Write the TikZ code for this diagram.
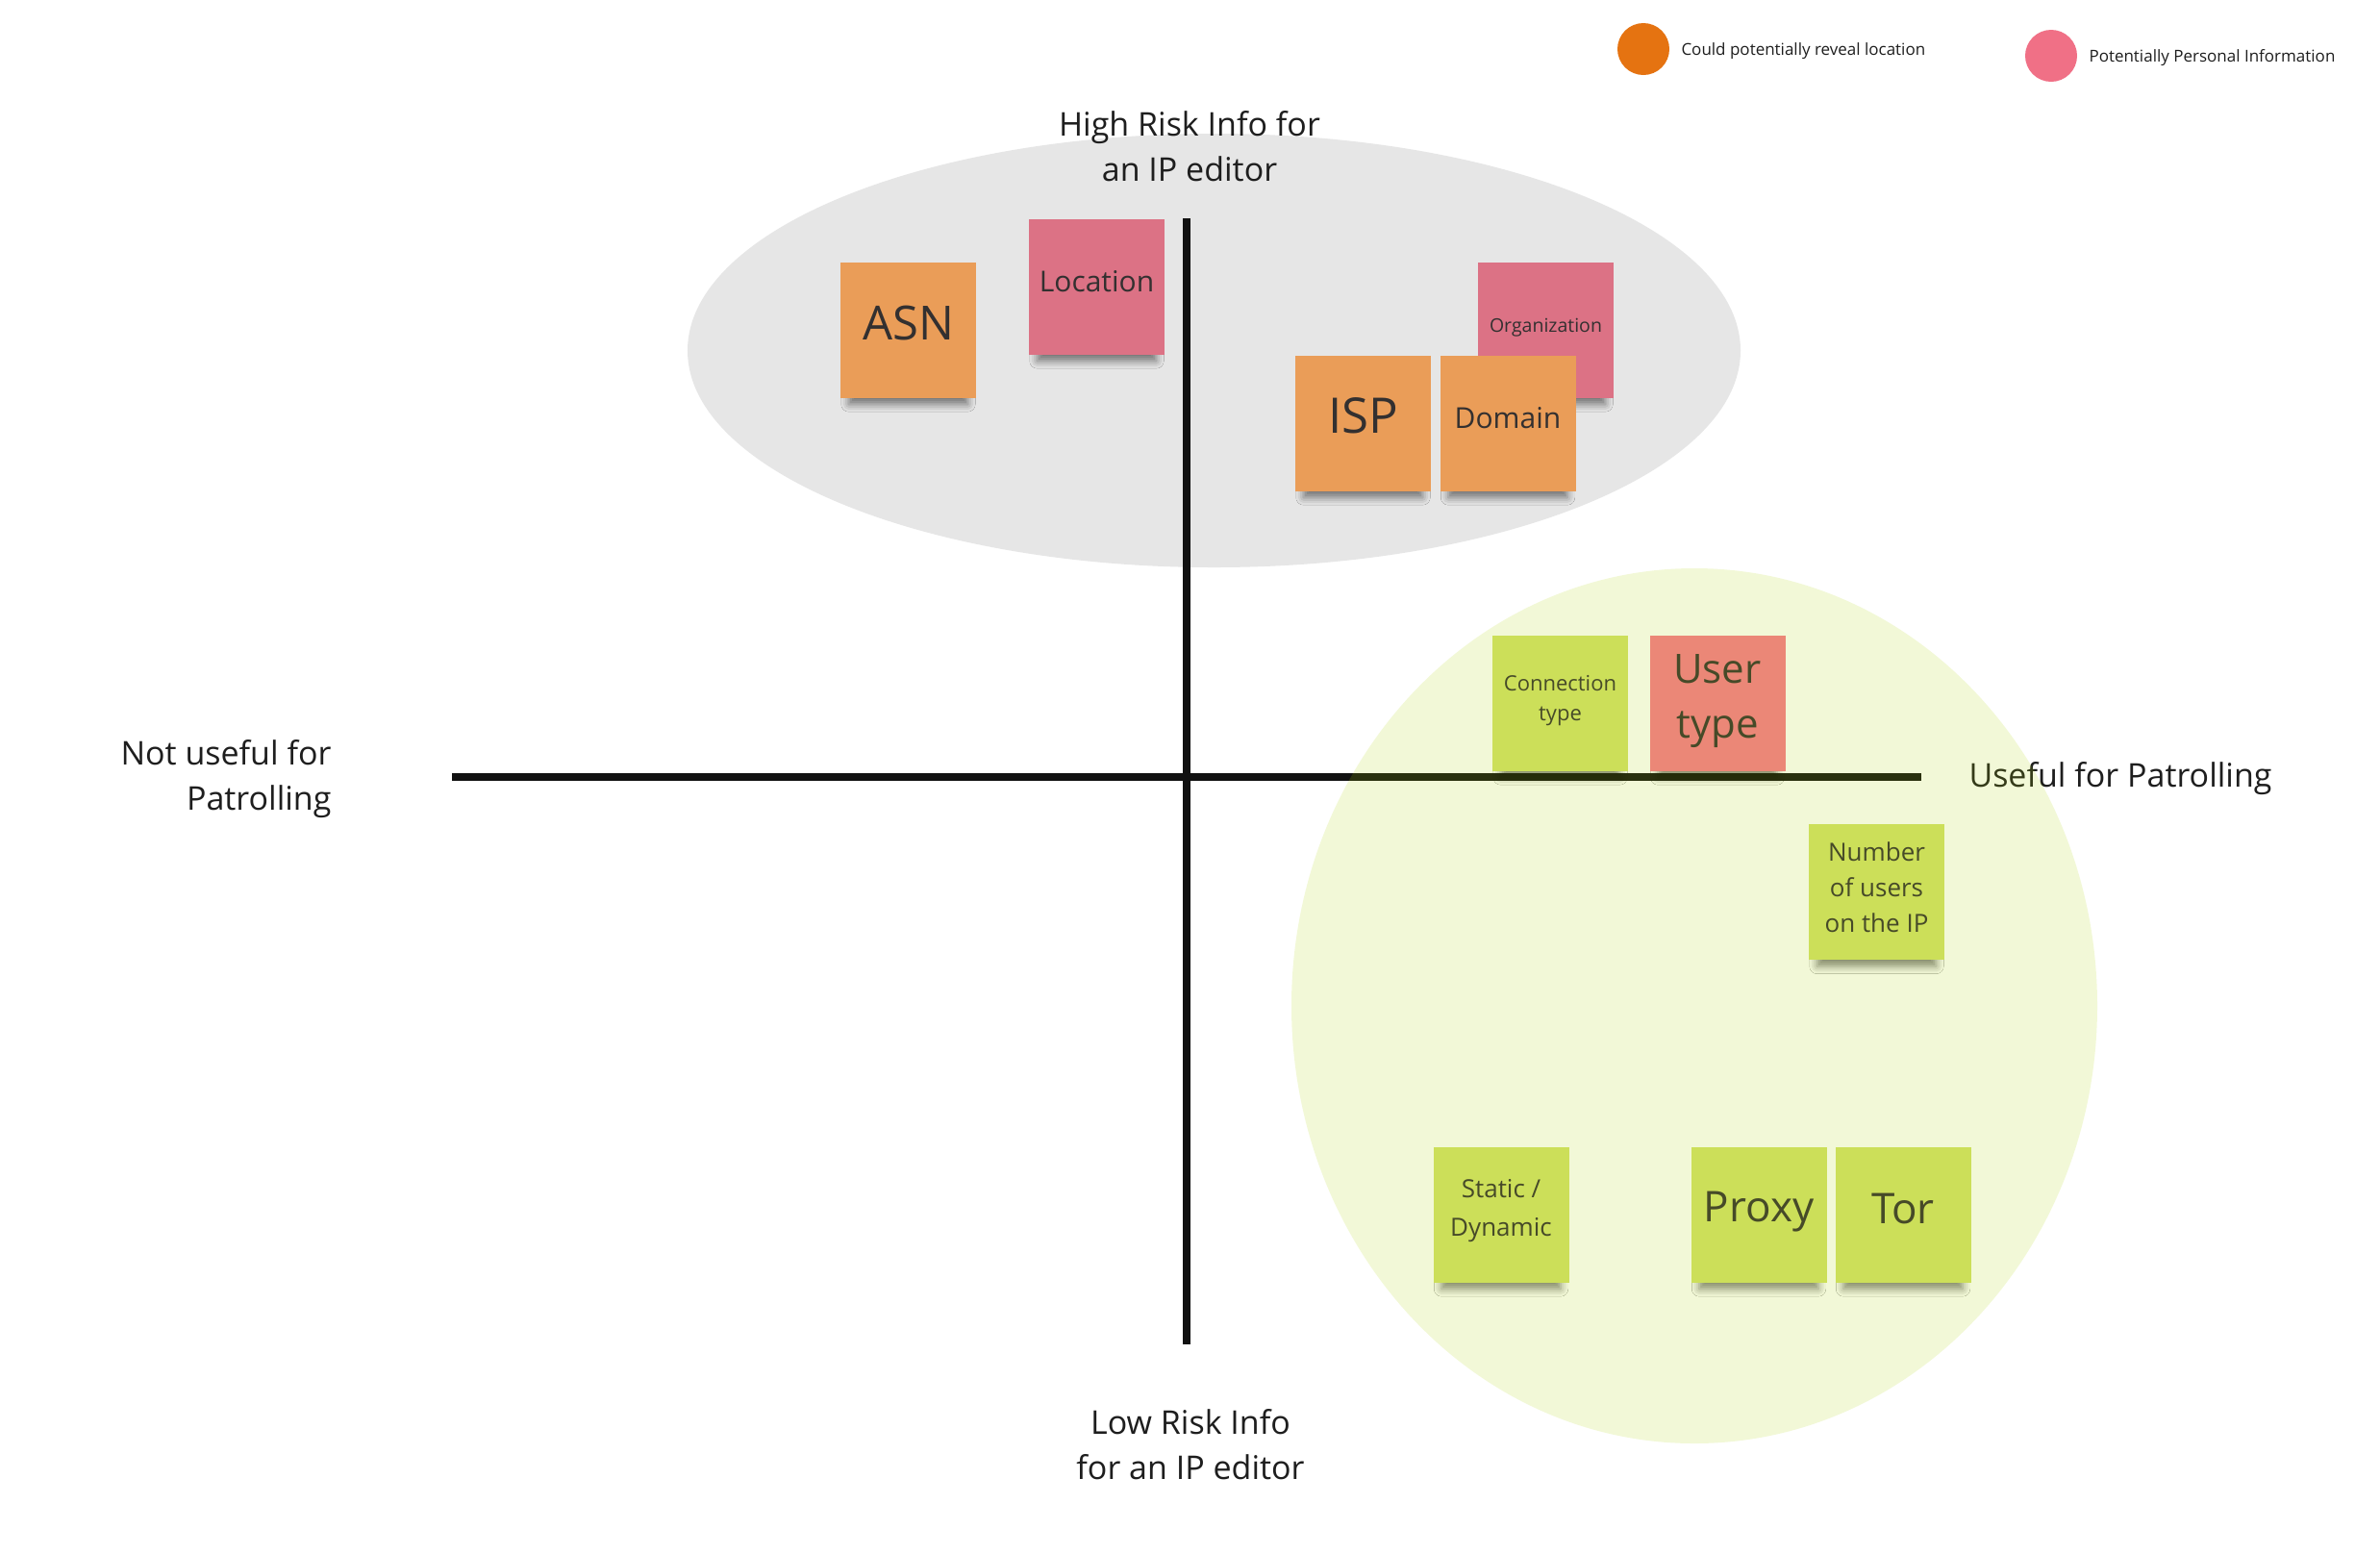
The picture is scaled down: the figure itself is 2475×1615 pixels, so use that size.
\documentclass[tikz,border=0pt]{standalone}
\usepackage{fontspec}
\setmainfont{Open Sans}
\usetikzlibrary{shadows.blur}
\definecolor{grayzone}{HTML}{E6E6E6}
\definecolor{greenoverlay}{RGB}{177,216,3}
\definecolor{orangenote}{HTML}{EA9D58}
\definecolor{pinknote}{HTML}{DC7285}
\definecolor{salmonnote}{RGB}{246,121,141}
\definecolor{greennote}{RGB}{210,225,106}
\definecolor{legendorange}{HTML}{E57311}
\definecolor{legendpink}{HTML}{F07086}
\definecolor{notetext}{HTML}{333030}
\definecolor{labeltext}{HTML}{1E1E1E}
\definecolor{axiscol}{HTML}{111111}
\begin{document}
\begin{tikzpicture}[x=0.4pt,y=-0.4pt,
  note/.style={minimum width=56.4pt, minimum height=56.4pt, inner sep=0pt,
    blur shadow={shadow xshift=0pt, shadow yshift=-7pt, shadow opacity=50, shadow blur radius=3.5pt, shadow scale=0.88}},
  notetxt/.style={inner sep=0pt, align=center, text=notetext, yshift=2pt},
  lbl/.style={inner sep=0pt, text=labeltext, font=\fontsize{13.6pt}{18.8pt}\selectfont},
  legendtxt/.style={inner sep=0pt, text=labeltext, font=\fontsize{6.8pt}{8pt}\selectfont},
  axis/.style={draw=axiscol, line width=3.2pt}]
\useasboundingbox (0,0) rectangle (2475,1615);
\fill[white] (0,0) rectangle (2475,1615);
% gray zone
\fill[grayzone] (1262.5,364.5) ellipse [x radius=219pt, y radius=90.2pt];
% axes
\coordinate (vt) at (1234,227);
\coordinate (vb) at (1234,1398);
\coordinate (hl) at (470,808);
\coordinate (hr) at (1998,808);
\draw[axis] (vt) -- (vb);
\draw[axis] (hl) -- (hr);
% axis labels
\node[lbl, anchor=base] (hi1) at (1237,141) {High Risk Info for};
\node[lbl, anchor=base] (hi2) at (1237,188) {an IP editor};
\node[lbl, anchor=base] (lo1) at (1238,1491) {Low Risk Info};
\node[lbl, anchor=base] (lo2) at (1238,1538) {for an IP editor};
\node[lbl, anchor=base east] (nu1) at (345,795) {Not useful for};
\node[lbl, anchor=base east] (nu2) at (345,842) {Patrolling};
\node[lbl, anchor=base west] (us) at (2047,818) {Useful for Patrolling};
% legend
\fill[legendorange] (1709,51) circle [radius=10.8pt];
\node[legendtxt, anchor=base west] (lg1) at (1748,57) {Could potentially reveal location};
\fill[legendpink] (2133,58) circle [radius=10.8pt];
\node[legendtxt, anchor=base west] (lg2) at (2172,64) {Potentially Personal Information};
% high risk notes
\node[note, fill=orangenote, label={[notetxt, yshift=1pt, font=\fontsize{19.6pt}{24pt}\selectfont]center:ASN}] (asn) at (944.5,343) {};
\node[note, fill=pinknote, label={[notetxt, font=\fontsize{12pt}{15pt}\selectfont]center:Location}] (loc) at (1140.5,298) {};
\node[note, fill=pinknote, label={[notetxt, yshift=-1.2pt, font=\fontsize{7.8pt}{10pt}\selectfont]center:Organization}] (org) at (1607.5,343) {};
\node[note, fill=orangenote, label={[notetxt, yshift=1pt, font=\fontsize{20.4pt}{25pt}\selectfont]center:ISP}] (isp) at (1417.5,440) {};
\node[note, fill=orangenote, label={[notetxt, font=\fontsize{12pt}{15pt}\selectfont]center:Domain}] (dom) at (1568,440) {};
% patrolling notes
\node[note, fill=greennote, label={[notetxt, yshift=-0.9pt, font=\fontsize{8.8pt}{12.4pt}\selectfont]center:Connection\\type}] (conn) at (1622.5,731) {};
\node[note, fill=salmonnote, label={[notetxt, yshift=-1.2pt, font=\fontsize{16.8pt}{22.8pt}\selectfont]center:User\\type}] (user) at (1786,731) {};
\node[note, fill=greennote, label={[notetxt, font=\fontsize{10.4pt}{14.8pt}\selectfont]center:Number\\of users\\on the IP}] (num) at (1951.5,927.5) {};
\node[note, fill=greennote, label={[notetxt, yshift=-0.5pt, font=\fontsize{10.4pt}{15.8pt}\selectfont]center:Static /\\Dynamic}] (stat) at (1561,1263) {};
\node[note, fill=greennote, label={[notetxt, yshift=-1pt, font=\fontsize{17.6pt}{22pt}\selectfont]center:Proxy}] (proxy) at (1829,1263) {};
\node[note, fill=greennote, label={[notetxt, yshift=0.5pt, font=\fontsize{17.6pt}{22pt}\selectfont]center:Tor}] (tor) at (1979,1263) {};
% translucent green zone on top
\fill[greenoverlay, fill opacity=0.155] (1762,1046) ellipse [x radius=167.6pt, y radius=182pt];
\end{tikzpicture}
\end{document}
